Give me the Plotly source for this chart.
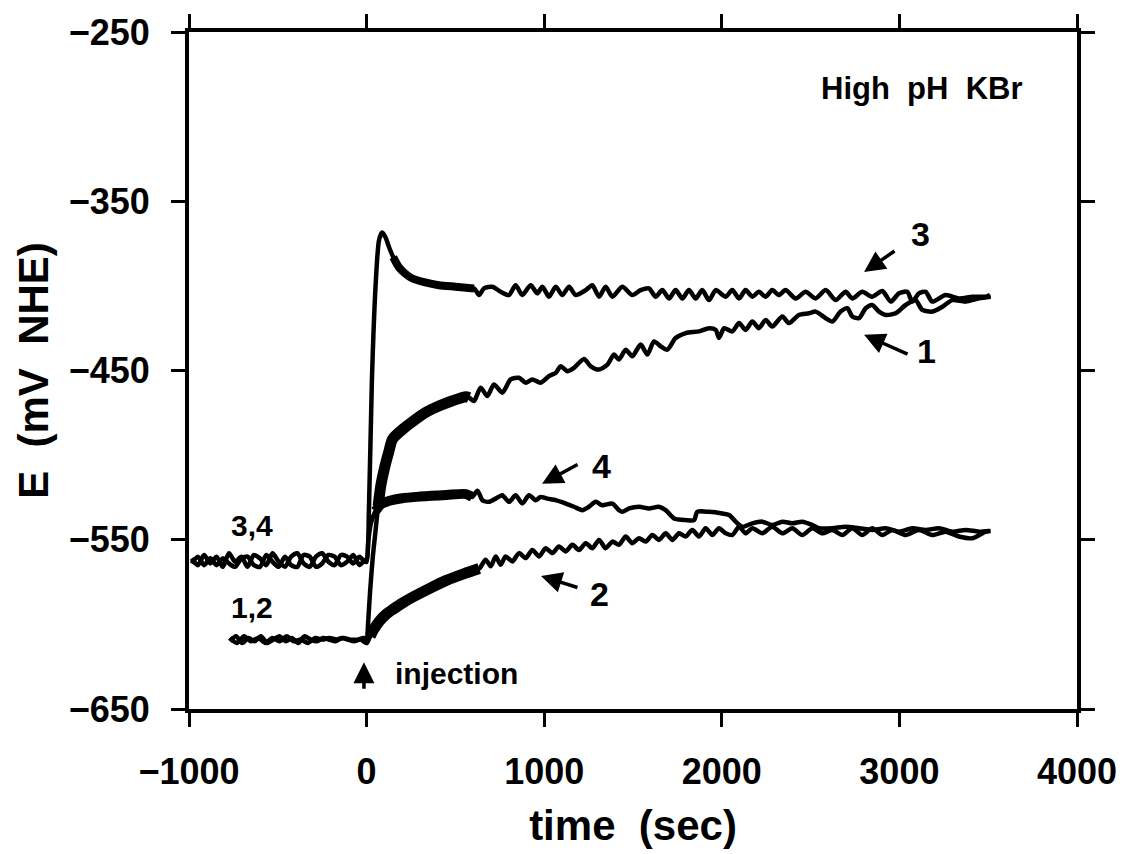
import plotly.graph_objects as go

# ---------------- data ----------------
# curve 3
t3 = [-985, -950, -915, -880, -845, -810, -775, -740, -705, -670, -635, -600, -565, -530, -495, -460, -425, -390,
      -355, -320, -285, -250, -215, -180, -145, -110, -75, -40, -10,
      0, 13, 30, 52, 70, 87, 105, 126, 150, 182, 220, 255, 330, 407, 500, 605,
      633, 661, 708, 755, 802, 839, 877, 924, 961, 990, 1027, 1065, 1102, 1140, 1177, 1234, 1271, 1309, 1346,
      1384, 1440, 1496, 1543, 1590, 1628, 1665, 1703, 1740, 1778, 1815, 1853, 1890, 1928, 1966,
      2022, 2059, 2097, 2134, 2172, 2209, 2247, 2284, 2322, 2359, 2416, 2472, 2528, 2585, 2641, 2697, 2735,
      2791, 2847, 2904, 2951, 2998, 3044, 3073, 3110, 3148, 3185, 3260, 3335, 3411, 3486, 3510]
e3 = [-561, -565, -559, -564, -560, -566, -558, -563, -560, -566, -559, -561, -565, -558, -563, -566, -560, -558,
      -564, -566, -560, -558, -563, -565, -559, -560, -564, -560, -563,
      -563, -533, -455, -397, -373, -368.5, -371, -377, -383, -389, -393, -395.5, -398, -399.6, -400.5, -401.5,
      -405.4, -401.5, -400.5, -403.5, -405.4, -399.6, -405.4, -399.6, -404.4, -400.5, -406.4, -400.5, -405.4,
      -400.5, -405.4, -402.5, -399.6, -406.4, -400.5,
      -406.4, -400.5, -405.4, -402.5, -401.5, -406.4, -402.5, -407.4, -402.5, -407.4, -402.5, -407.4, -402.5,
      -408.4, -402.5,
      -406.4, -402.5, -407.4, -402.5, -406.4, -403.5, -406.4, -402.5, -405.4, -402.5, -407.4, -403.5, -407.4,
      -402.5, -408.4, -403.5, -407.4,
      -403.5, -406.4, -403.0, -409.3, -404.4, -403.5, -409.3, -404.4, -403.5, -409.3, -405.4, -407.4, -406.4,
      -406.4, -405.4]
band3 = [150, 605]

# curve 4
t4 = [-985, -950, -915, -880, -845, -810, -775, -740, -705, -670, -635, -600, -565, -530, -495, -460, -425, -390,
      -355, -320, -285, -250, -215, -180, -145, -110, -75, -40, -10,
      0, 10, 25, 50, 80, 112, 200, 300, 450, 560, 595,
      624, 652, 689, 727, 764, 802, 839, 877, 914, 952, 980, 1018, 1065, 1121, 1168, 1215, 1252, 1290, 1327,
      1384, 1421, 1440, 1478, 1534, 1590, 1646, 1684, 1731, 1797, 1844, 1862, 1928, 2003, 2041,
      2078, 2115, 2172, 2228, 2284, 2341, 2397, 2453, 2510, 2547, 2622, 2697, 2772, 2847, 2923, 2998, 3073,
      3148, 3223, 3298, 3373, 3448, 3504]
e4 = [-564, -560, -565, -561, -565, -561, -564, -566, -561, -560, -565, -566, -559, -563, -566, -560, -565, -566,
      -559, -560, -566, -564, -559, -560, -565, -563, -559, -565, -562,
      -562, -550, -540, -533, -529, -527.5, -525.5, -524.5, -523.5, -523, -524.7,
      -521, -526.6, -527.6, -525.7, -523.7, -527.6, -523.7, -528.6, -523.7, -526.6, -524.7, -525.7, -526.6,
      -528.6, -530.5, -532.5, -530.5, -527.6, -529.6,
      -528.6, -532.5, -533.5, -531.5, -530.5, -531.5, -530.5, -532.5, -537.4, -538.4, -538.4, -533.5, -533.5,
      -534.5, -535.4,
      -539.3, -542.3, -540.3, -539.3, -541.3, -539.3, -540.3, -539.3, -541.3, -543.2, -543.2, -542.3, -543.2,
      -544.2, -543.2, -545.2, -543.2, -544.2, -543.2, -545.2, -544.2, -545.2, -544.8]
band4 = [50, 595]

# curve 1
t1 = [-770, -730, -690, -650, -610, -570, -530, -490, -450, -410, -370, -330, -290, -250, -210, -170, -130, -90,
      -50, -15,
      0, 8, 20, 35, 50, 65, 80, 100, 125, 146, 200, 255, 330, 407, 480, 559, 577,
      605, 642, 680, 717, 764, 811, 858, 896, 933, 980, 1027, 1065, 1093, 1130, 1168, 1224, 1262, 1309, 1356,
      1393, 1421, 1459, 1496, 1543, 1581, 1618, 1656, 1693, 1740, 1797, 1872, 1928, 1966, 1984, 2013,
      2059, 2097, 2134, 2172, 2209, 2247, 2284, 2341, 2378, 2434, 2491, 2528, 2585, 2622, 2669, 2707, 2735,
      2772, 2810, 2847, 2885, 2923, 2979, 3035, 3091, 3129, 3185, 3242, 3298, 3373, 3448, 3514]
e1 = [-608, -611, -607, -610, -608, -611, -608, -610, -607, -610, -609, -611, -608, -609, -608, -609, -608, -609,
      -609, -608,
      -611, -600, -580, -560, -545, -530, -518, -508, -498, -490.5, -485, -480.5, -475, -471, -468, -465.5, -466,
      -468.0, -460.2, -465.1, -458.2, -463.1, -455.3, -454.3, -457.2, -455.3, -457.2, -453.3, -451.4, -447.5,
      -450.4, -448.4, -443.2, -447.5, -449.4, -446.5,
      -440.6, -443.5, -437.7, -441.6, -434.7, -440.6, -432.8, -435.7, -437.7, -430.8, -427.9, -426.9, -425.0,
      -426.0, -430.8, -425.0,
      -426.9, -422.0, -426.0, -421.1, -425.0, -420.1, -424.0, -418.1, -422.0, -417.2, -416.2, -415.2, -419.1,
      -421.1, -415.2, -413.2, -418.1,
      -419.1, -413.2, -411.3, -415.2, -417.2, -416.2, -411.3, -408.4, -414.2, -415.2, -412.3, -408.4, -409.3,
      -407.4, -406.4]
band1 = [60, 577]

# curve 2
t2 = [-770, -735, -700, -665, -630, -595, -560, -525, -490, -455, -420, -385, -350, -315, -280, -245, -210, -175,
      -140, -105, -70, -35,
      0, 20, 40, 73, 110, 150, 200, 258, 350, 449, 550, 634,
      670, 699, 727, 755, 783, 821, 858, 896, 933, 971, 1008, 1046, 1083, 1121, 1159, 1196, 1234, 1271, 1309,
      1346, 1384, 1421, 1459, 1496, 1534, 1571, 1609, 1646, 1684, 1722, 1759, 1797, 1834, 1872, 1909, 1947,
      1984, 2022,
      2059, 2097, 2134, 2172, 2228, 2284, 2341, 2397, 2453, 2510, 2566, 2622, 2679, 2735, 2791, 2847, 2904,
      2960, 3035, 3110, 3185, 3260, 3335, 3411, 3486, 3514]
e2 = [-610, -607, -611, -608, -610, -607, -611, -609, -607, -610, -608, -611, -607, -609, -610, -608, -609, -610,
      -608, -609, -610, -609,
      -611, -607, -603, -598, -594, -591, -587.5, -584, -579, -574, -570, -567,
      -561.8, -565.7, -559.9, -564.8, -559.9, -562.8, -557.9, -560.8, -556.0, -559.9, -555.0, -557.9, -554.0,
      -556.9, -553.0, -556.0, -552.0, -555.0, -550.1,
      -555.0, -551.1, -553.0, -548.1, -552.0, -549.1, -551.1, -547.2, -550.1, -546.2, -550.1, -546.2, -548.1,
      -544.2, -548.1, -543.2, -547.2,
      -543.2, -546.2,
      -547.2, -542.3, -546.2, -543.2, -546.2, -542.3, -546.2, -543.2, -547.2, -543.2, -546.2, -544.2, -547.2,
      -543.2, -547.2, -543.2, -547.2,
      -544.2, -547.2, -544.2, -547.2, -545.2, -548.1, -549.1, -545.2, -544.8]
band2 = [20, 634]

x_ticks = [-1000, 0, 1000, 2000, 3000, 4000]
y_ticks = [-650, -550, -450, -350, -250]

# ---------------- figure ----------------
FONT = "Liberation Sans, Arial, sans-serif"
fig = go.Figure()

curves = [(t1, e1, band1, 11), (t2, e2, band2, 11), (t3, e3, band3, 8), (t4, e4, band4, 10)]
for t, e, band, bw in curves:
    fig.add_trace(go.Scatter(x=t, y=e, mode="lines",
                             line=dict(color="black", width=4.5, shape="spline", smoothing=0.7),
                             showlegend=False, hoverinfo="skip"))
    bt = [tt for tt in t if band[0] <= tt <= band[1]]
    be = [ee for tt, ee in zip(t, e) if band[0] <= tt <= band[1]]
    fig.add_trace(go.Scatter(x=bt, y=be, mode="lines",
                             line=dict(color="black", width=bw, shape="spline", smoothing=0.7),
                             showlegend=False, hoverinfo="skip"))

def label(x, y, text, size):
    fig.add_annotation(x=x, y=y, text=text, showarrow=False,
                       font=dict(family=FONT, size=size, color="black", weight="bold"),
                       xanchor="center", yanchor="middle")

def arrow(x, y, ax, ay):
    fig.add_annotation(x=x, y=y, ax=ax, ay=ay, text="", showarrow=True,
                       arrowhead=2, arrowsize=1.2, arrowwidth=3.5, arrowcolor="black",
                       axref="pixel", ayref="pixel")

label(3127, -283.4, "High  pH  KBr", 31)
label(3116, -369.1, "3", 34)
arrow(2801, -391.8, 32, -22)
label(3150, -438.3, "1", 34)
arrow(2801, -428.9, 45, 20)
label(1320, -506.3, "4", 34)
arrow(988, -516.9, 37, -20)
label(1314, -582.0, "2", 34)
arrow(982, -571.4, 38, 12)
label(-644, -541.5, "3,4", 30)
label(-644, -590.2, "1,2", 30)
label(506, -629.3, "injection", 30)
arrow(-15, -622.4, 0, 28)

axis_common = dict(showline=True, linewidth=4, linecolor="black", mirror="ticks",
                   ticks="outside", ticklen=14, tickwidth=3, tickcolor="black",
                   showgrid=False, zeroline=False,
                   tickfont=dict(family=FONT, size=36, color="black", weight="bold"))

fig.update_xaxes(range=[-1000, 4000], tickvals=x_ticks, ticklabelstandoff=14,
                 title=dict(text="time  (sec)", standoff=20,
                            font=dict(family=FONT, size=42, color="black", weight="bold")),
                 **axis_common)
fig.update_yaxes(range=[-650, -250], tickvals=y_ticks, ticklabelstandoff=14,
                 title=dict(text="E  (mV  NHE)", standoff=8,
                            font=dict(family=FONT, size=42, color="black", weight="bold")),
                 **axis_common)

fig.update_layout(width=1129, height=854, plot_bgcolor="white", paper_bgcolor="white",
                  margin=dict(l=189, r=51, t=30, b=142), showlegend=False)

fig.write_html("out.html")
